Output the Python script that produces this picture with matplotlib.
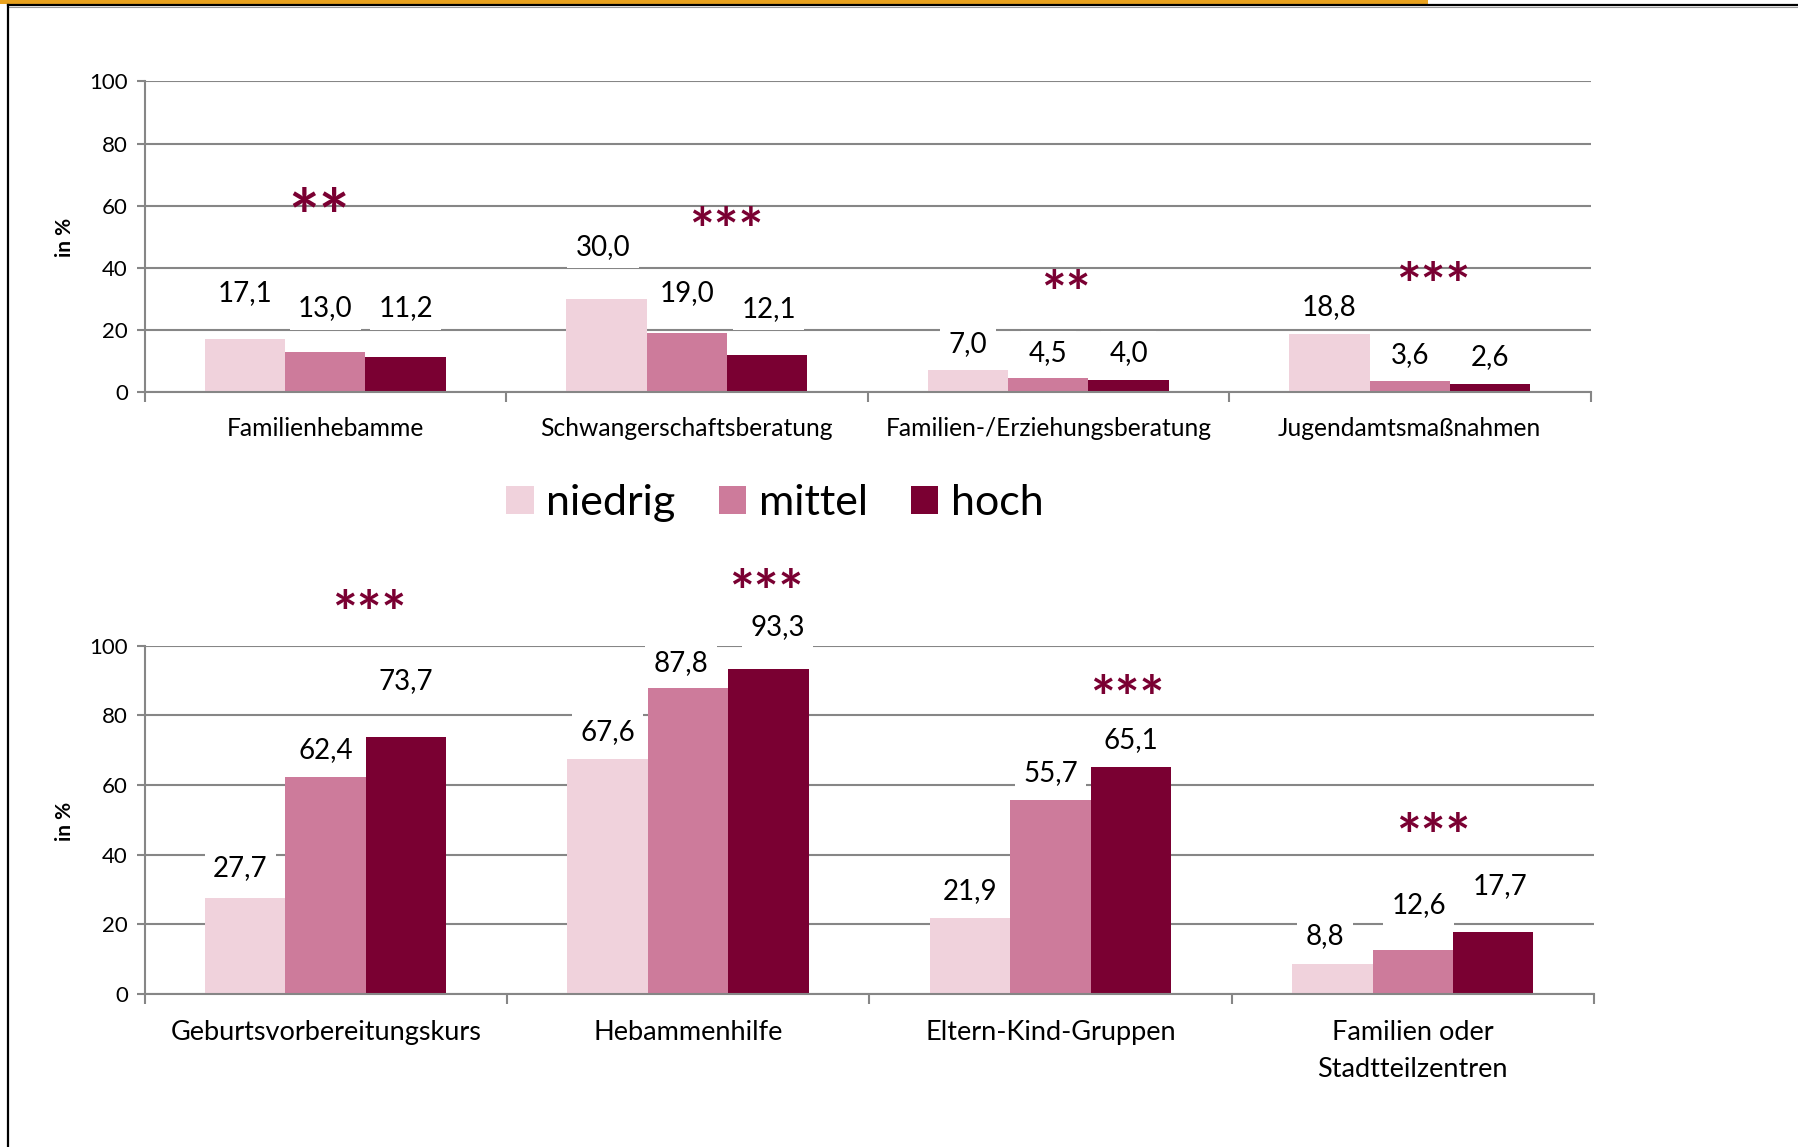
import matplotlib
matplotlib.use("Agg")
import matplotlib.pyplot as plt
from matplotlib.patches import Patch, Rectangle
from matplotlib.lines import Line2D
import numpy as np

plt.rcParams['font.family'] = ['Lato', 'DejaVu Sans']

groups = ['niedrig', 'mittel', 'hoch']
colors = ['#F0D2DC', '#CD7B9B', '#7A0032']
star_color = '#7A0032'
grid_color = '#868686'

# top panel
cats_top = ['Familienhebamme', 'Schwangerschaftsberatung',
            'Familien-/Erziehungsberatung', 'Jugendamtsmaßnahmen']
niedrig_top = [17.1, 30.0, 7.0, 18.8]
mittel_top = [13.0, 19.0, 4.5, 3.6]
hoch_top = [11.2, 12.1, 4.0, 2.6]
stars_top = ['**', '***', '**', '***']

# bottom panel
cats_bot = ['Geburtsvorbereitungskurs', 'Hebammenhilfe',
            'Eltern-Kind-Gruppen', 'Familien oder\nStadtteilzentren']
niedrig_bot = [27.7, 67.6, 21.9, 8.8]
mittel_bot = [62.4, 87.8, 55.7, 12.6]
hoch_bot = [73.7, 93.3, 65.1, 17.7]
stars_bot = ['***', '***', '***', '***']

# label placement (as in the original, labels sit freely above the bars)
lab_y_top = [[32.6, 27.8, 27.8], [47.6, 32.8, 27.6], [16.4, 13.5, 13.5], [28.2, 12.7, 12.0]]
lab_dx_top = [[0, 0, 0], [-0.01, 0, 0.005], [0, 0, 0], [0, 0, 0]]
lab_y_bot = [[36.8, 70.7, 90.5], [76.0, 95.7, 105.9], [30.3, 64.1, 73.5], [17.4, 26.3, 31.6]]
lab_dx_bot = [[-0.013, 0, 0], [0, -0.02, 0.025], [0, 0, 0], [-0.02, 0.016, 0.02]]
star_pos_top = [(-0.017, 60.9, 52), (0.11, 56.0, 42), (0.05, 35.8, 42), (0.065, 38.4, 42)]
star_pos_bot = [(0.12, 113.0, 42), (0.215, 119.0, 42), (0.211, 88.4, 42), (0.057, 49.0, 42)]

W, H = 1798, 1147
fig = plt.figure(figsize=(W / 100, H / 100), dpi=100)

ax1 = fig.add_axes([144.5 / W, 1 - 392.2 / H, 1446 / W, 310.8 / H])
ax2 = fig.add_axes([144.5 / W, 1 - 994.2 / H, 1449.5 / W, 348.6 / H])


def draw(ax, cats, series, lab_y, lab_dx, stars, star_pos, catsize, catpad):
    x = np.arange(len(cats))
    bw = 0.222
    for i, vals in enumerate(series):
        ax.bar(x + (i - 1) * bw, vals, width=bw, color=colors[i], zorder=2)
    for j in range(len(cats)):
        for i in range(3):
            val = series[i][j]
            ax.text(x[j] + (i - 1) * bw + lab_dx[j][i], lab_y[j][i],
                    ('%.1f' % val).replace('.', ','), ha='center',
                    va='center_baseline', fontsize=20, zorder=4,
                    bbox=dict(boxstyle='square,pad=0.3', fc='white', ec='none'))
        dx, sy, fs = star_pos[j]
        # asterisks sit high in the em box, pull them down to centre on sy
        ax.annotate(stars[j], xy=(x[j] + dx, sy), xytext=(0, -0.27 * fs),
                    textcoords='offset points', ha='center', va='center',
                    fontsize=fs, fontweight='bold', color=star_color,
                    zorder=5, annotation_clip=False)
    ax.set_xlim(-0.5, len(cats) - 0.5)
    ax.set_ylim(0, 100)
    ax.set_yticks(range(0, 101, 20))
    ax.yaxis.grid(True, color=grid_color, lw=1.5)
    ax.set_axisbelow(True)
    for s in ['top', 'right']:
        ax.spines[s].set_visible(False)
    for s in ['left', 'bottom']:
        ax.spines[s].set_color(grid_color)
        ax.spines[s].set_linewidth(1.5)
    ax.set_xticks(np.arange(-0.5, len(cats), 1.0))
    ax.set_xticklabels([])
    ax.set_xticks(x, minor=True)
    ax.set_xticklabels(cats, minor=True, fontsize=catsize, linespacing=1.62)
    ax.tick_params(axis='x', which='major', length=7, width=1.5, color=grid_color)
    ax.tick_params(axis='x', which='minor', length=0, pad=catpad)
    ax.tick_params(axis='y', length=6, width=1.5, color=grid_color,
                   labelsize=16, pad=6)


draw(ax1, cats_top, [niedrig_top, mittel_top, hoch_top], lab_y_top, lab_dx_top,
     stars_top, star_pos_top, 17.7, 18)
draw(ax2, cats_bot, [niedrig_bot, mittel_bot, hoch_bot], lab_y_bot, lab_dx_bot,
     stars_bot, star_pos_bot, 19.5, 18.5)

for yc in [237, 821]:
    fig.text(65 / W, 1 - yc / H, 'in %', rotation=90, ha='center', va='center',
             fontsize=15, fontweight='bold')

handles = [Patch(facecolor=c, edgecolor='none') for c in colors]
fig.legend(handles, groups, loc='center', bbox_to_anchor=(775 / W, 1 - 503 / H),
           ncol=3, frameon=False, fontsize=31, handlelength=0.63,
           handleheight=0.63, handletextpad=0.3, columnspacing=1.0)

# frame like the source slide
fig.add_artist(Rectangle((0, 1 - 3.5 / H), 1428 / W, 3.5 / H, transform=fig.transFigure,
                         fc='#E9A21E', ec='none'))
fig.add_artist(Line2D([8 / W, 1], [1 - 4.5 / H, 1 - 4.5 / H], transform=fig.transFigure,
                      color='black', lw=1.6))
fig.add_artist(Line2D([8 / W, 1], [1 - 6.5 / H, 1 - 6.5 / H], transform=fig.transFigure,
                      color='#9a9a9a', lw=0.8))
fig.add_artist(Line2D([8 / W, 8 / W], [0, 1 - 4.5 / H], transform=fig.transFigure,
                      color='black', lw=1.6))

fig.savefig('out.png', dpi=100)
